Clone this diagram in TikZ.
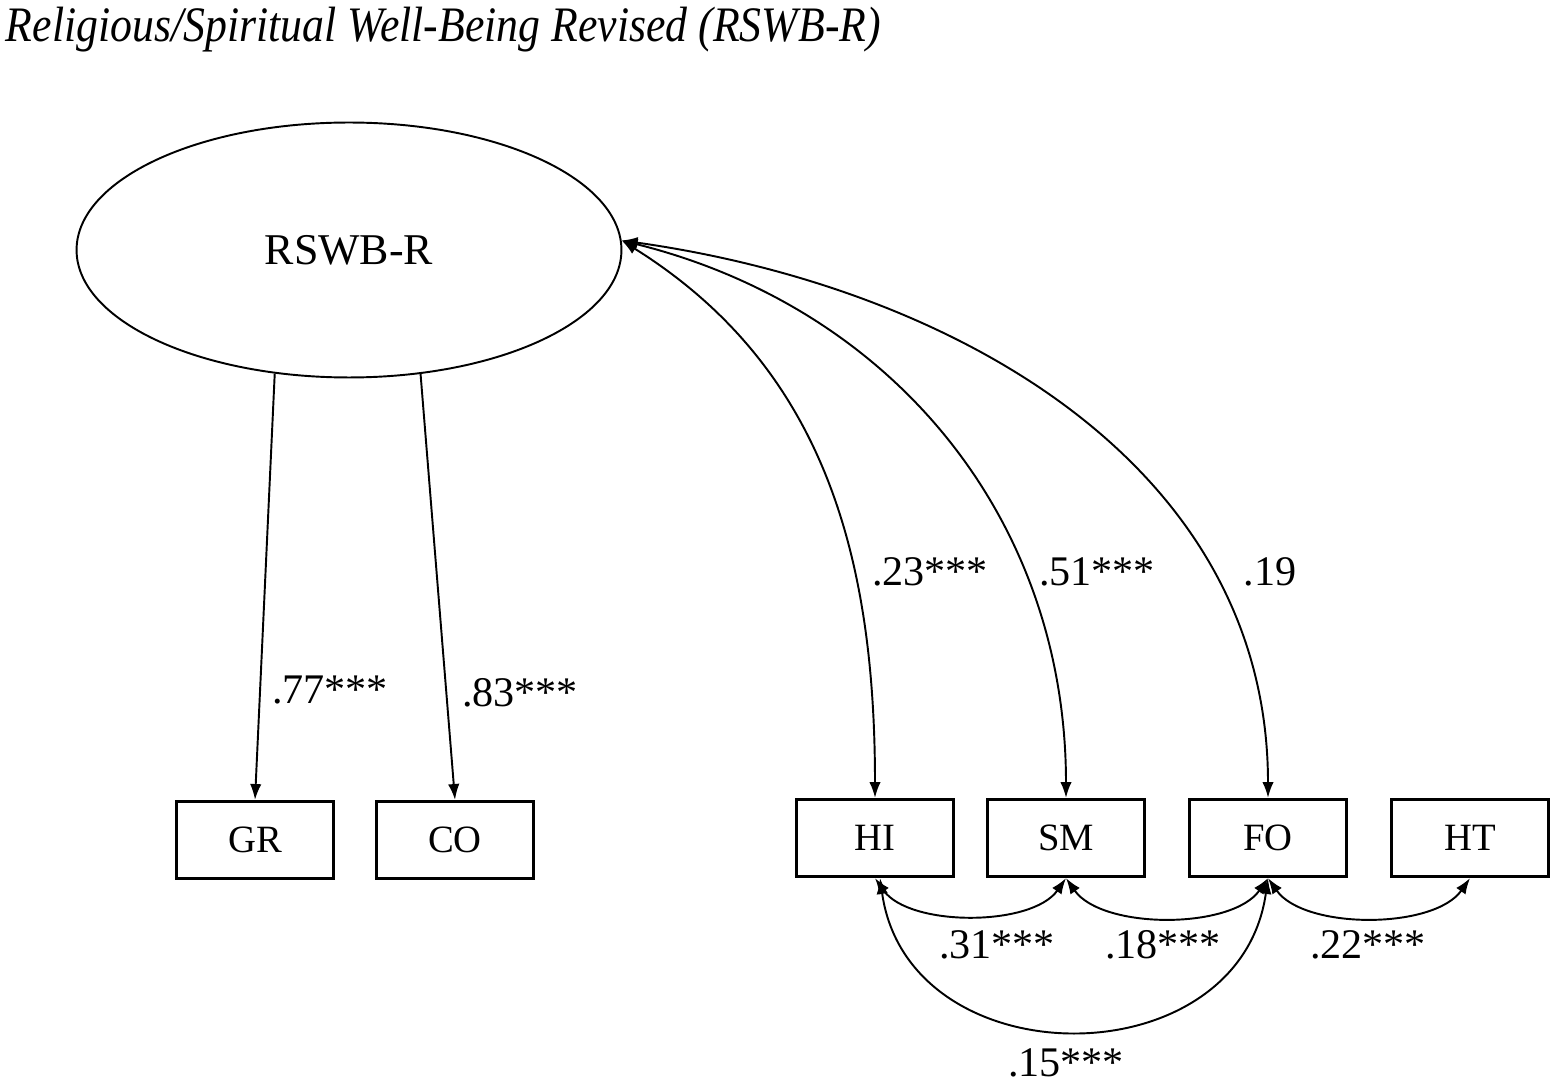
\documentclass[tikz,border=0pt]{standalone}
\usepackage{fontspec}
\usepackage{graphicx}
\setmainfont{Liberation Serif}
\usetikzlibrary{arrows.meta,shapes.geometric}
\begin{document}
\begin{tikzpicture}[x=0.02cm, y=-0.02cm, >={Latex[length=9pt,width=6.5pt]},
    lat/.style={draw, line width=1.1pt, ellipse, minimum width=10.9cm, minimum height=5.1cm, font=\fontsize{25}{25}\selectfont},
    obs/.style={draw, line width=1.6pt, minimum width=3.15cm, minimum height=1.55cm, font=\fontsize{22}{22}\selectfont},
    lbl/.style={font=\fontsize{24}{24}\selectfont},
    every path/.style={line width=1.1pt}]
\useasboundingbox (0,0) rectangle (1559,1087);
\node[anchor=north west, inner sep=0pt] (title) at (5,6) {\resizebox*{17.5cm}{0.9cm}{\itshape Religious/Spiritual Well-Being Revised (RSWB-R)}};

\node[lat] (rswb) at (349,250) {RSWB-R};

\node[obs] (gr) at (255,840) {GR};
\node[obs] (co) at (455,840) {CO};
\node[obs] (hi) at (875,838) {HI};
\node[obs] (sm) at (1066,838) {SM};
\node[obs] (fo) at (1268,838) {FO};
\node[obs] (ht) at (1470,838) {HT};

% loadings
\draw[->] (rswb.239) -- (gr.north);
\draw[->] (rswb.300) -- (co.north);
\node[lbl] (l1) at (330,690) {.77***};
\node[lbl] (l2) at (520,693) {.83***};

% correlations with the latent factor
\draw[<->] (rswb.2) to[out=-32, in=90] (hi.north);
\draw[<->] (rswb.2) to[out=-14, in=90] (sm.north);
\draw[<->] (rswb.2) to[out=-8, in=90] (fo.north);
\node[lbl] (c1) at (930,572) {.23***};
\node[lbl] (c2) at (1097,572) {.51***};
\node[lbl] (c3) at (1270,572) {.19};

% residual covariances
\draw[<->] (hi.south) to[out=-55, in=-125, looseness=0.8] (sm.south);
\draw[<->] (sm.south) to[out=-55, in=-125, looseness=0.8] (fo.south);
\draw[<->] (fo.south) to[out=-55, in=-125, looseness=0.8] (ht.south);
\draw[<->] ([xshift=0.1cm]hi.south) to[out=-82, in=-98, looseness=1.35] (fo.south);
\node[lbl] (r1) at (997,945) {.31***};
\node[lbl] (r2) at (1163,945) {.18***};
\node[lbl] (r3) at (1368,945) {.22***};
\node[lbl] (r4) at (1066,1063) {.15***};
\end{tikzpicture}
\end{document}
